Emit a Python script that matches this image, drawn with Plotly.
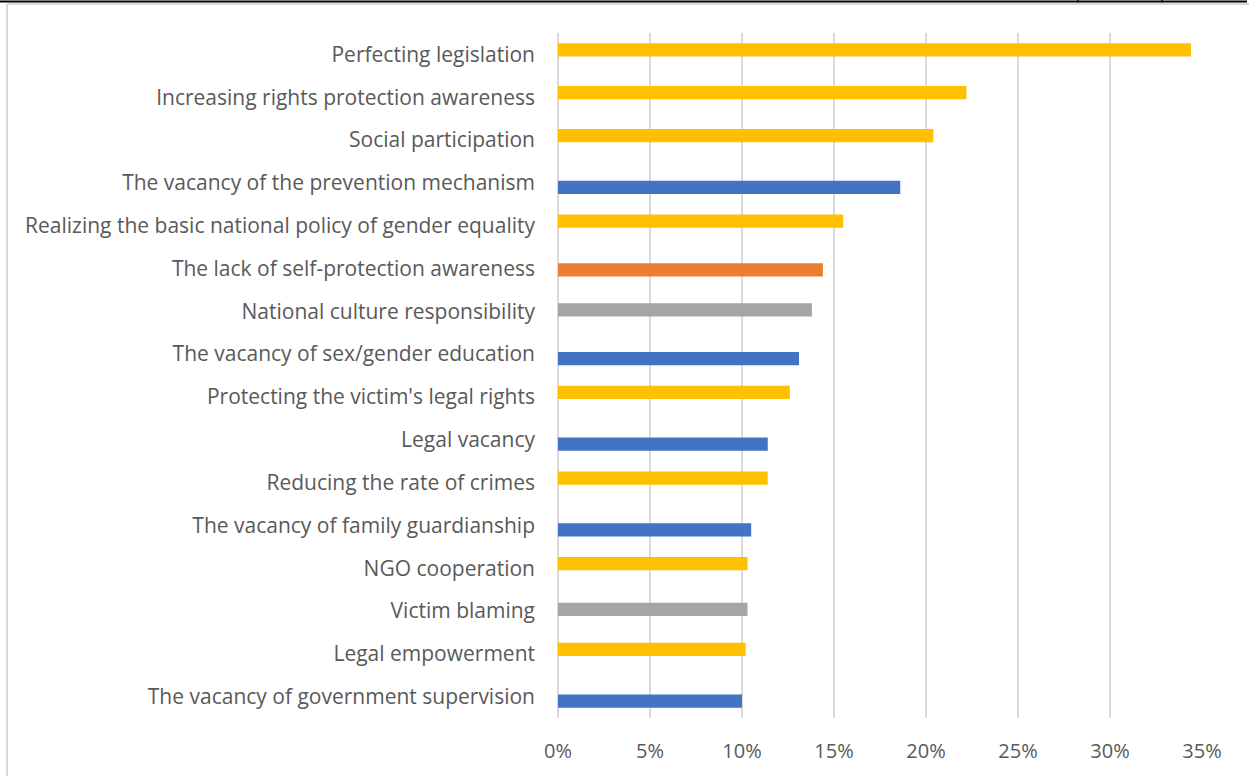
import plotly.graph_objects as go

# Categories listed top to bottom, with their share and the series each belongs to
categories = [
    "Perfecting legislation",
    "Increasing rights protection awareness",
    "Social participation",
    "The vacancy of the prevention mechanism",
    "Realizing the basic national policy of gender equality",
    "The lack of self-protection awareness",
    "National culture responsibility",
    "The vacancy of sex/gender education",
    "Protecting the victim's legal rights",
    "Legal vacancy",
    "Reducing the rate of crimes",
    "The vacancy of family guardianship",
    "NGO cooperation",
    "Victim blaming",
    "Legal empowerment",
    "The vacancy of government supervision",
]
values = [34.4, 22.2, 20.4, 18.6, 15.5, 14.4, 13.8, 13.1, 12.6, 11.4, 11.4, 10.5, 10.3, 10.3, 10.2, 10.0]
series_of = [
    "Countermeasures", "Countermeasures", "Countermeasures", "Institutional gaps",
    "Countermeasures", "Individual factors", "Cultural factors", "Institutional gaps",
    "Countermeasures", "Institutional gaps", "Countermeasures", "Institutional gaps",
    "Countermeasures", "Cultural factors", "Countermeasures", "Institutional gaps",
]

series_names = ["Institutional gaps", "Individual factors", "Cultural factors", "Countermeasures"]
series_colors = ["#4472C4", "#ED7D31", "#A5A5A5", "#FFC000"]
# bar centre relative to the category slot (reversed axis: positive = lower)
series_shift = [0.105, 0.035, -0.035, -0.105]
BAR_W = 0.31

W, H = 1249, 776
ML, MR, MT, MB = 558, 47, 33, 58
PW, PH = W - ML - MR, H - MT - MB

fig = go.Figure()
for name, color, shift in zip(series_names, series_colors, series_shift):
    ys = [c for c, s in zip(categories, series_of) if s == name]
    xs = [v for v, s in zip(values, series_of) if s == name]
    fig.add_trace(go.Bar(
        x=xs, y=ys, orientation="h", name=name,
        marker=dict(color=color, line=dict(width=0)),
        width=BAR_W, offset=shift - BAR_W / 2,
        hovertemplate="%{y}: %{x}%<extra></extra>",
    ))


def px_x(px):
    return (px - ML) / PW


def px_y(py):
    return (H - MB - py) / PH


frame_color = "#D9D9D9"
shapes = [
    # light chart border (top and left)
    dict(type="line", xref="paper", yref="paper", x0=px_x(7), x1=px_x(1249), y0=px_y(4), y1=px_y(4),
         line=dict(color=frame_color, width=2)),
    dict(type="line", xref="paper", yref="paper", x0=px_x(7), x1=px_x(7), y0=px_y(4), y1=px_y(776),
         line=dict(color=frame_color, width=2)),
    # dark rule along the top edge with two small marks
    dict(type="line", xref="paper", yref="paper", x0=px_x(0), x1=px_x(1247), y0=px_y(1.5), y1=px_y(1.5),
         line=dict(color="#000000", width=2)),
    dict(type="line", xref="paper", yref="paper", x0=px_x(1078), x1=px_x(1078), y0=px_y(0), y1=px_y(2.5),
         line=dict(color="#000000", width=1.5)),
    dict(type="line", xref="paper", yref="paper", x0=px_x(1162), x1=px_x(1162), y0=px_y(0), y1=px_y(2.5),
         line=dict(color="#000000", width=1.5)),
]

font_family = "'Open Sans', Lato, sans-serif"
fig.update_layout(
    width=W, height=H,
    margin=dict(l=ML, r=MR, t=MT, b=MB, pad=0),
    paper_bgcolor="white", plot_bgcolor="white",
    barmode="overlay",
    showlegend=False,
    shapes=shapes,
    font=dict(family=font_family, color="#595959", size=20),
    xaxis=dict(
        range=[0, 35], dtick=5, tick0=0, ticksuffix="%",
        showgrid=True, gridcolor=frame_color, gridwidth=2,
        zeroline=True, zerolinecolor=frame_color, zerolinewidth=2,
        showline=False, ticks="", ticklabelstandoff=19,
        tickfont=dict(size=20, color="#595959"),
        fixedrange=True,
    ),
    yaxis=dict(
        type="category", categoryorder="array", categoryarray=categories,
        range=[len(categories) - 0.5, -0.5],
        showgrid=False, zeroline=False, showline=False, ticks="",
        ticklabelstandoff=22,
        tickfont=dict(size=21, color="#595959"),
        fixedrange=True,
    ),
)

fig.write_html("out.html")
